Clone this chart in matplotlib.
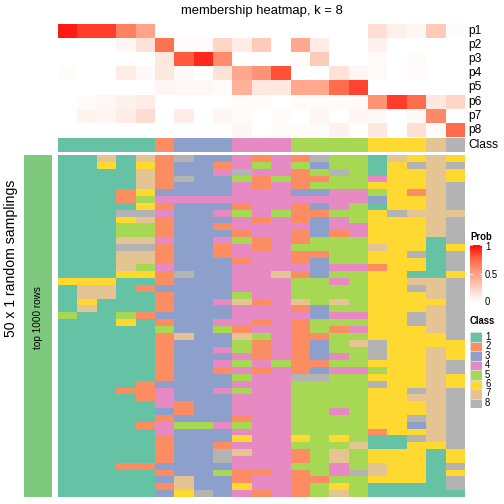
import numpy as np
import matplotlib
matplotlib.use("Agg")
import matplotlib.pyplot as plt
from matplotlib.colors import ListedColormap, LinearSegmentedColormap
from matplotlib.patches import Rectangle

plt.rcParams['font.family'] = ['Liberation Sans', 'DejaVu Sans']

# membership probabilities, one list per class row, 21 columns
p1 = [0.93, 0.85, 0.85, 0.63, 0.47, 0, 0, 0, 0, 0, 0, 0, 0, 0, 0, 0, 0.17, 0.08, 0.04, 0.27, 0.02]
p2 = [0, 0, 0, 0.05, 0.15, 0.70, 0.02, 0.02, 0.22, 0.10, 0.27, 0, 0.45, 0.10, 0, 0, 0.07, 0, 0, 0, 0]
p3 = [0, 0, 0, 0, 0, 0.12, 0.78, 0.90, 0.58, 0, 0, 0, 0.02, 0.27, 0, 0, 0.03, 0, 0.02, 0, 0]
p4 = [0.02, 0, 0, 0.10, 0.03, 0.12, 0.03, 0, 0.15, 0.45, 0.55, 0.80, 0, 0, 0.15, 0.05, 0.03, 0, 0.02, 0, 0]
p5 = [0, 0, 0, 0, 0, 0.05, 0.04, 0.04, 0.02, 0.40, 0.12, 0.12, 0.45, 0.45, 0.72, 0.83, 0, 0, 0, 0, 0]
p6 = [0, 0.02, 0.04, 0.07, 0.10, 0, 0, 0, 0, 0.02, 0.02, 0, 0.02, 0.02, 0.02, 0.02, 0.55, 0.85, 0.72, 0.12, 0.22]
p7 = [0, 0.06, 0.05, 0.10, 0.18, 0, 0.10, 0, 0.05, 0.02, 0, 0.02, 0, 0.05, 0, 0.05, 0.03, 0, 0.03, 0.60, 0]
p8 = [0, 0, 0, 0, 0, 0, 0, 0, 0, 0.04, 0, 0.02, 0.02, 0.02, 0.07, 0, 0.12, 0, 0.17, 0.02, 0.73]
prob_labels = ["p1", "p2", "p3", "p4", "p5", "p6", "p7", "p8"]

# consensus class of each column
col_class = [1, 1, 1, 1, 1, 2, 3, 3, 3, 4, 4, 4, 5, 5, 5, 5, 6, 6, 6, 7, 8]

# class in each of the 50 random samplings (rows) for each column
samplings = [
    "117172833424285517676",
    "116162332454535516878",
    "111172334844258516676",
    "111172833525225546676",
    "111172333424255566678",
    "111263333444334456278",
    "111254444444444436678",
    "111162333244234516678",
    "111884334545225568777",
    "111672333424234566678",
    "111552332444434466678",
    "111552333244232466678",
    "111774334524255566618",
    "111882332424555576616",
    "111772332444225566818",
    "111772333244235566618",
    "111754333444434426618",
    "111662833447235566116",
    "666112333444554566778",
    "177123333444555566878",
    "177112333544555566678",
    "161112334724757566668",
    "171112333444235566678",
    "511523333444434466878",
    "111612334424255566878",
    "111115335244252466678",
    "111112733754225566668",
    "111112333524235786666",
    "111112334524235586676",
    "111112333424234586676",
    "111112334545225566678",
    "111112332424234456678",
    "111112333544885566676",
    "111123333444555586676",
    "111224334544555566878",
    "111124333444555566778",
    "111114233444555566678",
    "111113233444554566678",
    "111112333244555566878",
    "111124554544555566378",
    "111114333444555526678",
    "111112333644656511878",
    "111112332444555711668",
    "111112338744257566616",
    "111112338444257566616",
    "111223333444554576618",
    "111112335224254876616",
    "111113733244225566618",
    "111112733644256511118",
    "111113683424257511111",
]

class_names = ["1", "2", "3", "4", "5", "6", "7", "8"]
class_colors = ["#66C2A5", "#FC8D62", "#8DA0CB", "#E78AC3",
                "#A6D854", "#FFD92F", "#E5C494", "#B3B3B3"]

W, H = 504, 504
fig = plt.figure(figsize=(7, 7), dpi=72)

def px_axes(x0, y0, x1, y1):
    ax = fig.add_axes([x0 / W, 1 - y1 / H, (x1 - x0) / W, (y1 - y0) / H])
    ax.set_axis_off()
    return ax

# white -> red ramp (interpolated in Lab, like colorRamp2)
prob_cmap = LinearSegmentedColormap.from_list(
    "prob", [(0, "#FFFFFF"), (0.25, "#FFCFBE"), (0.5, "#FF9E81"),
             (0.75, "#FF6746"), (1, "#FF0000")])
class_cmap = ListedColormap(class_colors)

prob = np.array([p1, p2, p3, p4, p5, p6, p7, p8])
samp = np.array([[int(c) for c in row] for row in samplings])

# membership heatmap
ax = px_axes(58, 24, 465, 137)
ax.pcolormesh(prob, cmap=prob_cmap, vmin=0, vmax=1)
ax.set_xlim(0, prob.shape[1])
ax.set_ylim(prob.shape[0], 0)

# class annotation
ax = px_axes(58, 138, 465, 152)
ax.pcolormesh(np.array([col_class]), cmap=class_cmap, vmin=0.5, vmax=8.5)
ax.set_xlim(0, len(col_class))

# random samplings
ax = px_axes(58, 155, 465, 497)
ax.pcolormesh(samp, cmap=class_cmap, vmin=0.5, vmax=8.5)
ax.set_xlim(0, samp.shape[1])
ax.set_ylim(samp.shape[0], 0)

# left row annotation
ax = px_axes(24, 155, 52, 497)
ax.add_patch(Rectangle((0, 0), 1, 1, color="#7FC97F"))
ax.set_xlim(0, 1)
ax.set_ylim(0, 1)

def ftext(x, y, s, **kw):
    fig.text(x / W, 1 - y / H, s, **kw)

ftext(262, 11, "membership heatmap, k = 8", ha="center", va="center", fontsize=13)
for i, lab in enumerate(prob_labels):
    ftext(468, 31 + i * 14.1, lab, ha="left", va="center", fontsize=12)
ftext(468, 145, "Class", ha="left", va="center", fontsize=12)
ftext(11, 258, "50 x 1 random samplings", rotation=90, ha="center", va="center", fontsize=14)
ftext(38, 318, "top 1000 rows", rotation=90, ha="center", va="center", fontsize=10)

# Prob legend
ftext(470, 237, "Prob", ha="left", va="center", fontsize=9.5, fontweight="bold")
ax = px_axes(470, 245, 482, 302)
ax.imshow(np.linspace(0, 1, 256)[:, None], cmap=prob_cmap, aspect="auto",
          origin="lower", extent=(0, 1, 0, 1))
for v in [0, 0.5, 1]:
    ax.plot([0, 0.2], [v, v], color="white", lw=0.8)
    ax.plot([0.8, 1], [v, v], color="white", lw=0.8)
ax.set_xlim(0, 1)
ax.set_ylim(0, 1)
for v, lab in [(0, "0"), (0.5, "0.5"), (1, "1")]:
    ftext(485, 302 - v * 55, lab, ha="left", va="center", fontsize=9.5)

# Class legend
ftext(470, 321, "Class", ha="left", va="center", fontsize=9.5, fontweight="bold")
ax = px_axes(470, 332, 482, 408)
n = len(class_names)
for i, (name, col) in enumerate(zip(class_names, class_colors)):
    ax.add_patch(Rectangle((0, n - 1 - i), 1, 1, facecolor=col, edgecolor="#DDDDDD", lw=0.8))
    ftext(485, 337 + i * 9.4, name, ha="left", va="center", fontsize=9.5)
ax.set_xlim(0, 1)
ax.set_ylim(0, n)

fig.savefig("out.png", dpi=72)
